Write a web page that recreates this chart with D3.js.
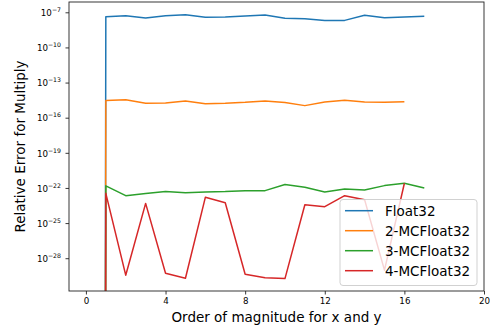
<!DOCTYPE html>
<html>
<head>
<meta charset="utf-8">
<script src="https://cdn.jsdelivr.net/npm/d3@7"></script>
<style>
  body { margin: 0; background: #fff; }
  text { font-family: "DejaVu Sans", sans-serif; fill: #000; }
</style>
</head>
<body>
<svg id="svg" width="490" height="334"></svg>
<script>
// order of magnitude (x), 0 has zero error -> clipped like matplotlib log axis
const orders = d3.range(0, 18);
const seriesNames = ["Float32", "2-MCFloat32", "3-MCFloat32", "4-MCFloat32"];
const colors = ["#1f77b4", "#ff7f0e", "#2ca02c", "#d62728"];

// values read as log10 of the relative error (null = error of 0)
const float32Log = [null, -7.38, -7.29, -7.49, -7.29, -7.21, -7.43, -7.40, -7.32, -7.23,
  -7.51, -7.55, -7.69, -7.69, -7.26, -7.46, -7.40, -7.34];
const mc2Log = [null, -14.54, -14.46, -14.77, -14.75, -14.57, -14.80, -14.77, -14.69, -14.57,
  -14.71, -14.97, -14.66, -14.52, -14.66, -14.69, -14.63];
const mc3Log = [null, -21.82, -22.66, -22.48, -22.31, -22.40, -22.34, -22.31, -22.23, -22.23,
  -21.71, -21.94, -22.34, -22.08, -22.17, -21.80, -21.60, -22.00];
const mc4Log = [null, -22.46, -29.45, -23.32, -29.28, -29.71, -22.80, -23.26, -29.37, -29.66,
  -29.74, -23.43, -23.60, -22.66, -23.00, -29.02, -21.60];

const xTicks = [0, 4, 8, 12, 16, 20];
const yTickExps = [-7, -10, -13, -16, -19, -22, -25, -28];

const series = [float32Log, mc2Log, mc3Log, mc4Log].map((a, i) => ({
  name: seriesNames[i],
  color: colors[i],
  values: a.map((v, j) => ({ x: orders[j], e: v }))
}));

const svg = d3.select("#svg");
const mLeft = 69, mRight = 484, mTop = 2, mBottom = 291;
const yMinExp = -30.8, yMaxExp = -6.12;

const x = d3.scaleLinear().domain([-0.85, 20]).range([mLeft, mRight]);
// log axis for the ticks
const y = d3.scaleLog().domain([Math.pow(10, yMinExp), Math.pow(10, yMaxExp)]).range([mBottom, mTop]);
// same mapping in exponent space, so zero can be clipped far below (log10 -> -1000)
const yExp = d3.scaleLinear().domain([yMinExp, yMaxExp]).range([mBottom, mTop]);

svg.append("clipPath").attr("id", "plotclip")
  .append("rect").attr("x", mLeft).attr("y", mTop)
  .attr("width", mRight - mLeft).attr("height", mBottom - mTop);

const line = d3.line()
  .x(d => x(d.x))
  .y(d => yExp(d.e === null ? -1000 : d.e));

const plot = svg.append("g").attr("clip-path", "url(#plotclip)");
series.forEach(s => {
  plot.append("path")
    .attr("d", line(s.values))
    .attr("fill", "none")
    .attr("stroke", s.color)
    .attr("stroke-width", 1.5)
    .attr("stroke-linejoin", "round");
});

// axes frame
svg.append("rect")
  .attr("x", mLeft).attr("y", mTop)
  .attr("width", mRight - mLeft).attr("height", mBottom - mTop)
  .attr("fill", "none").attr("stroke", "#222").attr("stroke-width", 0.9);

// x axis
const xAxis = svg.append("g")
  .attr("transform", `translate(0,${mBottom})`)
  .call(d3.axisBottom(x).tickValues(xTicks).tickSize(3.5).tickPadding(3.5));
xAxis.select(".domain").remove();
xAxis.selectAll(".tick line").attr("stroke", "#222").attr("stroke-width", 0.9);
xAxis.selectAll(".tick text")
  .style("font-family", "DejaVu Sans").style("font-size", "8.7px").attr("fill", "#000");

// y axis, labels drawn as 10 with superscript
const yAxis = svg.append("g")
  .attr("transform", `translate(${mLeft},0)`)
  .call(d3.axisLeft(y).tickValues(yTickExps.map(e => Math.pow(10, e)))
    .tickSize(3.5).tickFormat(""));
yAxis.select(".domain").remove();
yAxis.selectAll(".tick line").attr("stroke", "#222").attr("stroke-width", 0.9);

yTickExps.forEach(e => {
  const t = svg.append("text")
    .attr("x", 61)
    .attr("y", y(Math.pow(10, e)) + 3.8)
    .attr("text-anchor", "end")
    .style("font-size", "8.7px");
  t.append("tspan").text("10");
  t.append("tspan").attr("dy", -4).style("font-size", "6.2px").text("\u2212" + Math.abs(e));
});

// axis labels
svg.append("text")
  .attr("x", (mLeft + mRight) / 2).attr("y", 322)
  .attr("text-anchor", "middle")
  .style("font-size", "13.5px")
  .text("Order of magnitude for x and y");

svg.append("text")
  .attr("transform", `translate(25,${(mTop + mBottom) / 2}) rotate(-90)`)
  .attr("text-anchor", "middle")
  .style("font-size", "13.5px")
  .text("Relative Error for Multiply");

// legend
const lg = svg.append("g").attr("transform", "translate(340,199.5)");
lg.append("rect")
  .attr("width", 137).attr("height", 86).attr("rx", 3)
  .attr("fill", "#fff").attr("fill-opacity", 0.8)
  .attr("stroke", "#ccc").attr("stroke-width", 0.9);
series.forEach((s, i) => {
  const yy = 11.2 + i * 20;
  lg.append("line")
    .attr("x1", 5).attr("x2", 33).attr("y1", yy).attr("y2", yy)
    .attr("stroke", s.color).attr("stroke-width", 1.5);
  lg.append("text")
    .attr("x", 45).attr("y", yy).attr("dy", "0.36em")
    .style("font-size", "13.5px")
    .text(s.name);
});
</script>
</body>
</html>
